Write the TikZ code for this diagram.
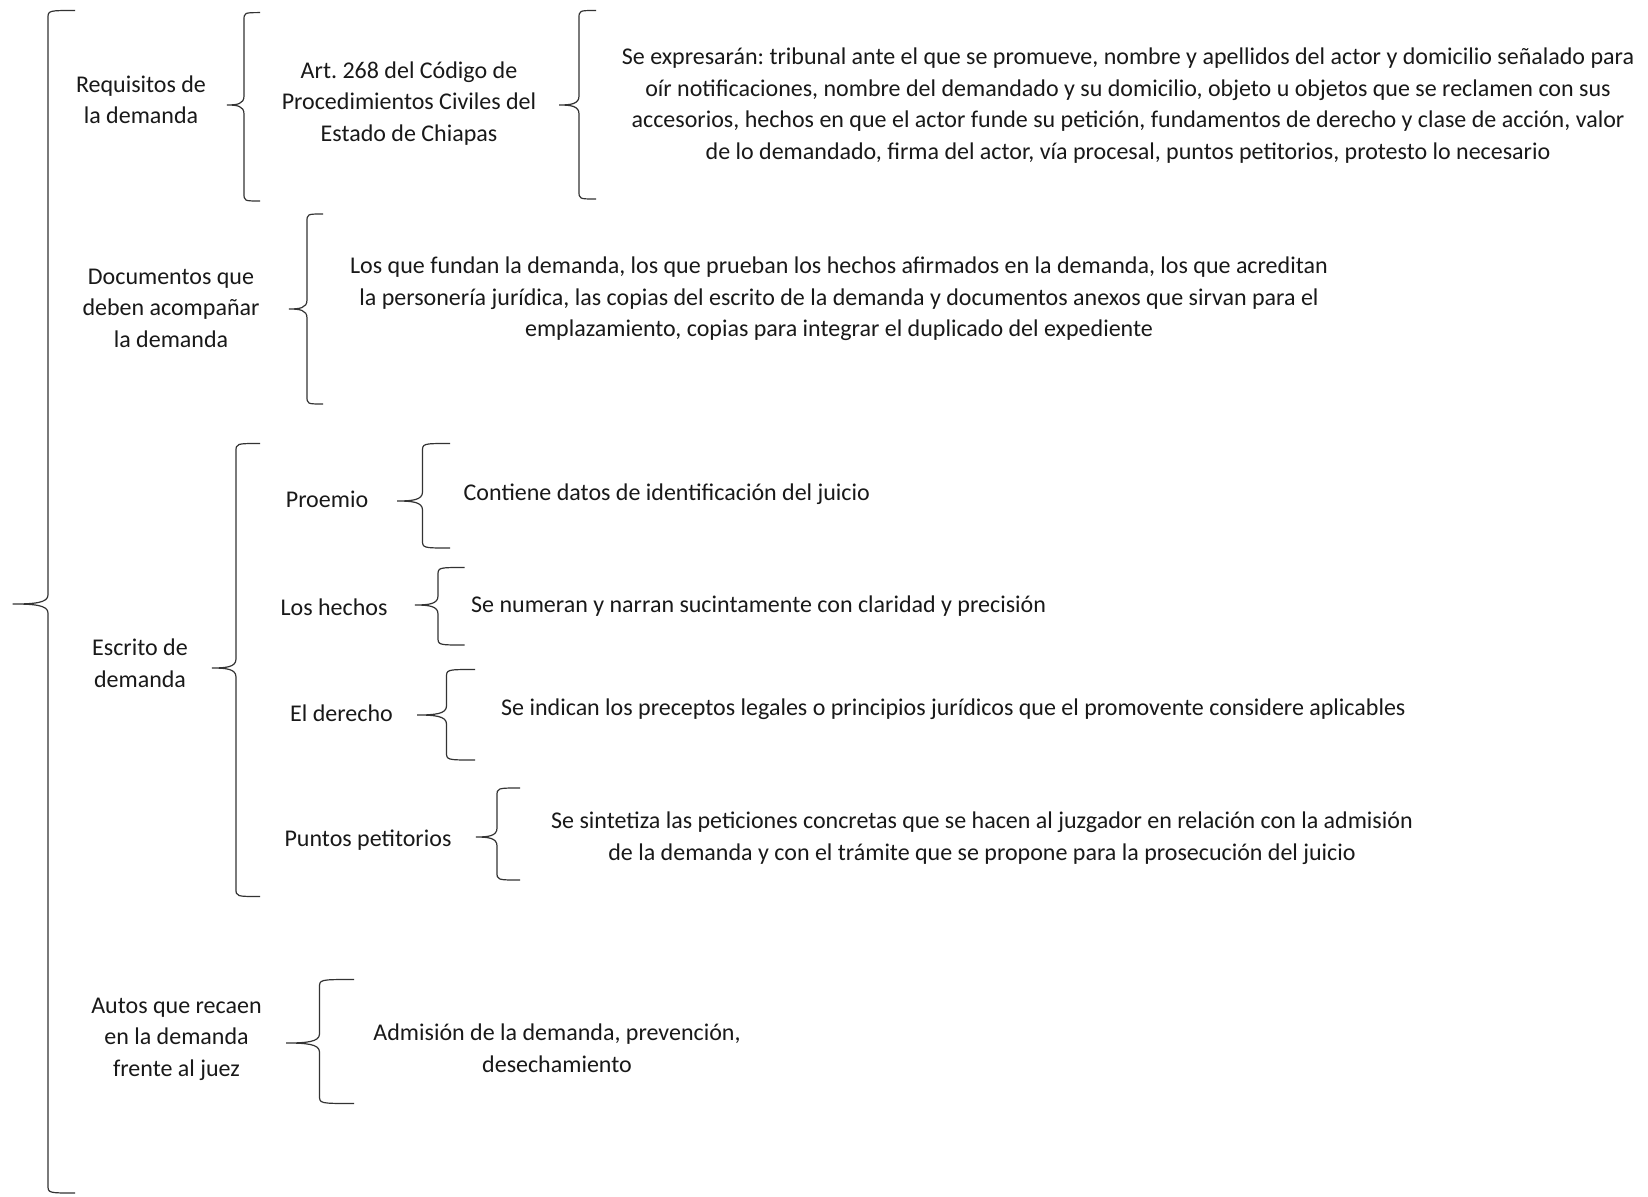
\documentclass[tikz,border=0pt]{standalone}
\usepackage{fontspec}
\setmainfont{Carlito}
\frenchspacing
\begin{document}
\begin{tikzpicture}[x=1pt,y=-1pt,
  txt/.style={inner sep=0pt,align=center,yshift=-1.5pt,font=\fontsize{24}{31.5}\selectfont\frenchspacing,text=black!90},
  txtl/.style={txt,anchor=west},
  bracel/.style={draw=black!80,line width=1.2pt}]
\useasboundingbox[fill=white] (0,0) rectangle (1648,1196);
% #1 xv, #2 ytop, #3 ymid, #4 ybot, #5 xtip, #6 xhook
\newcommand\mybrace[6]{%
  \draw[bracel] (#6,#2) .. controls (#1,#2) .. (#1,#2+8)
    -- (#1,#3-9) .. controls (#1,#3-1) and ({#1-0.4*(#1-#5)},#3) .. (#5,#3)
    .. controls ({#1-0.4*(#1-#5)},#3) and (#1,#3+1) .. (#1,#3+9)
    -- (#1,#4-8) .. controls (#1,#4) .. (#6,#4);}
% texts
\node[txt] (req) at (141,98.5) {Requisitos de\\la demanda};
\node[txt] (art) at (409,102) {Art. 268 del Código de\\Procedimientos Civiles del\\Estado de Chiapas};
\node[txt] (exp) at (1128,104) {Se expresarán: tribunal ante el que se promueve, nombre y apellidos del actor y domicilio señalado para\\oír notificaciones, nombre del demandado y su domicilio, objeto u objetos que se reclamen con sus\\accesorios, hechos en que el actor funde su petición, fundamentos de derecho y clase de acción, valor\\de lo demandado, firma del actor, vía procesal, puntos petitorios, protesto lo necesario};
\node[txt] (doc) at (171,306.5) {Documentos que\\deben acompañar\\la demanda};
\node[txt] (los) at (839,297.5) {Los que fundan la demanda, los que prueban los hechos afirmados en la demanda, los que acreditan\\la personería jurídica, las copias del escrito de la demanda y documentos anexos que sirvan para el\\emplazamiento, copias para integrar el duplicado del expediente};
\node[txt] (esc) at (140,661.5) {Escrito de\\demanda};
\node[txt] (pro) at (327,498) {Proemio};
\node[txtl] (con) at (463.5,493) {Contiene datos de identificación del juicio};
\node[txt] (hec) at (334,606) {Los hechos};
\node[txtl] (num) at (471,605) {Se numeran y narran sucintamente con claridad y precisión};
\node[txt] (der) at (341.5,711.5) {El derecho};
\node[txtl] (ind) at (501,708) {Se indican los preceptos legales o principios jurídicos que el promovente considere aplicables};
\node[txt] (pun) at (368,839) {Puntos petitorios};
\node[txt] (sin) at (982,836.5) {Se sintetiza las peticiones concretas que se hacen al juzgador en relación con la admisión\\de la demanda y con el trámite que se propone para la prosecución del juicio};
\node[txt] (aut) at (176.5,1037.5) {Autos que recaen\\en la demanda\\frente al juez};
\node[txt] (adm) at (557,1046.5) {Admisión de la demanda, prevención,\\desechamiento};
% braces
\mybrace{48}{10.5}{604}{1193}{12.6}{75}
\mybrace{244}{12.6}{105}{201}{227}{260}
\mybrace{579}{10.5}{105}{199}{559}{596}
\mybrace{307}{214}{309}{404}{289}{323}
\mybrace{236}{443.5}{668}{896.5}{212}{260}
\mybrace{422.5}{443.5}{501}{548}{397}{450}
\mybrace{438}{567.5}{605}{645}{415}{464.5}
\mybrace{446.5}{669.5}{715}{760}{417}{475}
\mybrace{497}{788}{837}{880}{476}{520}
\mybrace{319.5}{979.5}{1043}{1103.5}{286}{354}
\end{tikzpicture}
\end{document}
